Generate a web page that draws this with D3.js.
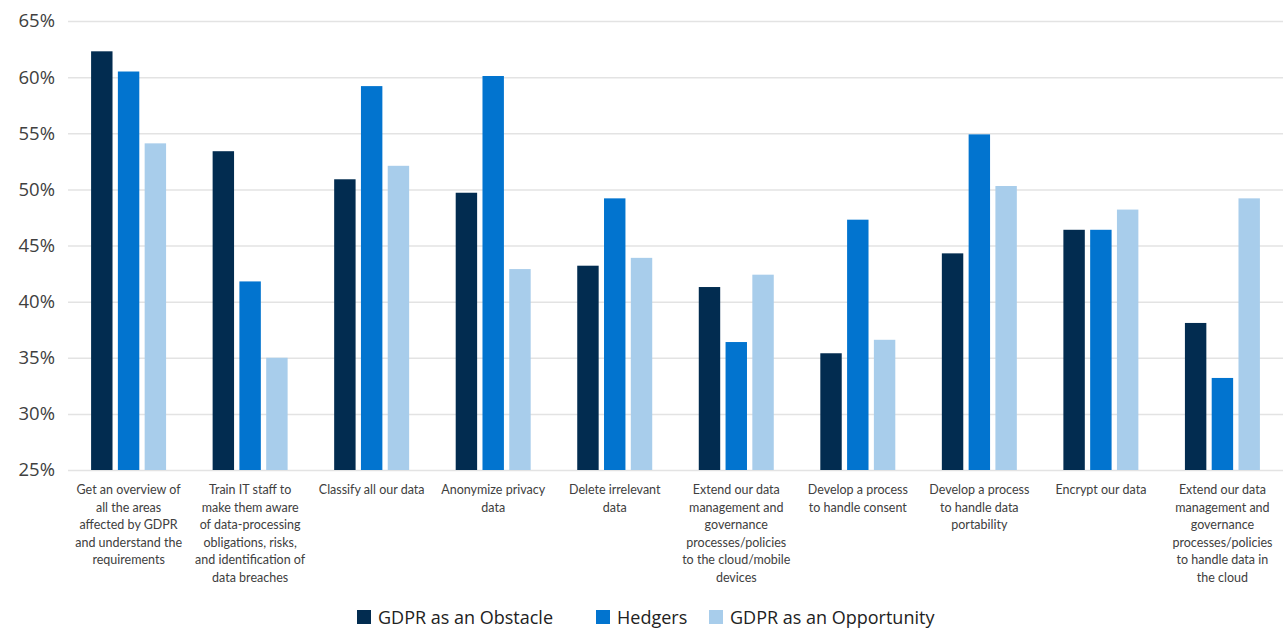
<!DOCTYPE html>
<meta charset="utf-8">
<style>
    body { margin: 0; background: #fff; }
    .grid line { stroke: #e3e3e3; stroke-width: 1.5; }
    .grid path { display: none; }
    .grid text { font-family: "Open Sans", sans-serif; font-size: 18.5px; fill: #404040; }
    .xaxis path, .xaxis line { display: none; }
    .xaxis text { font-family: Lato, "Liberation Sans", sans-serif; font-size: 12.5px; fill: #404040; }
    .legend text { font-family: "Open Sans", sans-serif; font-size: 18px; fill: #222; }
</style>

<svg width="1287" height="628"></svg>

<script src="https://cdn.jsdelivr.net/npm/d3@7"></script>

<script>
    var categories = [
        ["Get an overview of", "all the areas", "affected by GDPR", "and understand the", "requirements"],
        ["Train IT staff to", "make them aware", "of data-processing", "obligations, risks,", "and identification of", "data breaches"],
        ["Classify all our data"],
        ["Anonymize privacy", "data"],
        ["Delete irrelevant", "data"],
        ["Extend our data", "management and", "governance", "processes/policies", "to the cloud/mobile", "devices"],
        ["Develop a process", "to handle consent"],
        ["Develop a process", "to handle data", "portability"],
        ["Encrypt our data"],
        ["Extend our data", "management and", "governance", "processes/policies", "to handle data in", "the cloud"]
    ];
    var seriesNames = ["GDPR as an Obstacle", "Hedgers", "GDPR as an Opportunity"];
    var obstacle    = [62.3, 53.4, 50.9, 49.7, 43.2, 41.3, 35.4, 44.3, 46.4, 38.1];
    var hedgers     = [60.5, 41.8, 59.2, 60.1, 49.2, 36.4, 47.3, 54.9, 46.4, 33.2];
    var opportunity = [54.1, 35.0, 52.1, 42.9, 43.9, 42.4, 36.6, 50.3, 48.2, 49.2];
    var yTicks = [25, 30, 35, 40, 45, 50, 55, 60, 65];
    var colors = ["#022c50", "#0274cf", "#a8cdeb"];

    (function () {
        var svg = d3.select("svg"),
            left = 68, right = 1283, top = 21, bottom = 470,
            series = [obstacle, hedgers, opportunity],
            idx = d3.range(categories.length);

        var x0 = d3.scaleBand().domain(idx).range([left, right])
                .paddingInner(0.383).paddingOuter(0.19),
            x1 = d3.scaleBand().domain(d3.range(3)).range([0, x0.bandwidth()])
                .paddingInner(0.2),
            y = d3.scaleLinear().domain([25, 65]).range([bottom, top]);

        // gridlines + y labels
        svg.append("g")
            .attr("class", "grid")
            .attr("transform", "translate(" + [left, 0] + ")")
            .call(d3.axisLeft(y).tickValues(yTicks)
                .tickSize(-(right - left)).tickPadding(13)
                .tickFormat(function (d) { return d + "%"; }));

        // bars
        svg.append("g").selectAll("g")
            .data(idx)
            .enter().append("g")
            .attr("transform", function (i) { return "translate(" + x0(i) + ",0)"; })
            .selectAll("rect")
            .data(function (i) { return series.map(function (s, k) { return {k: k, v: s[i]}; }); })
            .enter().append("rect")
            .attr("x", function (d) { return x1(d.k); })
            .attr("y", function (d) { return y(d.v); })
            .attr("width", x1.bandwidth())
            .attr("height", function (d) { return y(25) - y(d.v); })
            .attr("fill", function (d) { return colors[d.k]; });

        // category labels
        var xa = svg.append("g")
            .attr("class", "xaxis")
            .attr("transform", "translate(" + [0, bottom] + ")")
            .call(d3.axisBottom(x0).tickSize(0).tickFormat(""));
        xa.selectAll(".tick text").remove();
        xa.selectAll(".tick").append("text")
            .attr("text-anchor", "middle")
            .each(function (i) {
                var t = d3.select(this);
                categories[i].forEach(function (line, j) {
                    t.append("tspan").attr("x", 0).attr("y", 24 + j * 17.6).text(line);
                });
            });

        // legend
        var legX = [357, 596, 709];
        var leg = svg.append("g").attr("class", "legend")
            .selectAll("g").data(seriesNames).enter().append("g")
            .attr("transform", function (d, i) { return "translate(" + [legX[i], 610] + ")"; });
        leg.append("rect").attr("width", 14).attr("height", 14)
            .attr("fill", function (d, i) { return colors[i]; });
        leg.append("text").attr("x", 21).attr("y", 14).text(function (d) { return d; });
    })();
</script>
